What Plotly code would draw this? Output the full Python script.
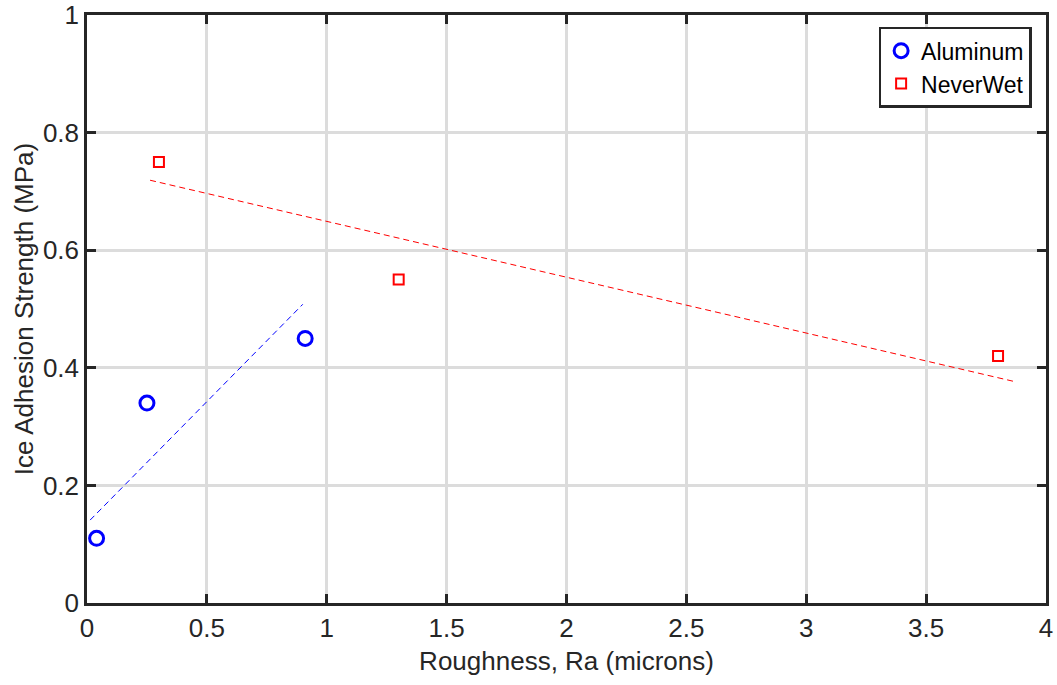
import plotly.graph_objects as go

al_x = [0.04, 0.25, 0.91]
al_y = [0.11, 0.34, 0.45]
nw_x = [0.30, 1.30, 3.80]
nw_y = [0.75, 0.55, 0.42]
al_fit_x = [0.013, 0.90]
al_fit_y = [0.141, 0.508]
nw_fit_x = [0.263, 3.875]
nw_fit_y = [0.719, 0.376]
x_ticks = [0, 0.5, 1, 1.5, 2, 2.5, 3, 3.5, 4]
x_labels = ["0", "0.5", "1", "1.5", "2", "2.5", "3", "3.5", "4"]
y_ticks = [0, 0.2, 0.4, 0.6, 0.8, 1]
y_labels = ["0", "0.2", "0.4", "0.6", "0.8", "1"]

FONT = "Liberation Sans, Arial, Helvetica"

fig = go.Figure()
fig.add_trace(go.Scatter(x=al_fit_x, y=al_fit_y, mode="lines", showlegend=False,
                         line=dict(color="#0000ff", width=1, dash="6px,4px"), hoverinfo="skip"))
fig.add_trace(go.Scatter(x=nw_fit_x, y=nw_fit_y, mode="lines", showlegend=False,
                         line=dict(color="#ff0000", width=1, dash="6px,4px"), hoverinfo="skip"))
fig.add_trace(go.Scatter(x=al_x, y=al_y, mode="markers", name="Aluminum",
                         marker=dict(symbol="circle-open", size=14, color="#0000ff",
                                     line=dict(width=3, color="#0000ff"))))
fig.add_trace(go.Scatter(x=nw_x, y=nw_y, mode="markers", name="NeverWet",
                         marker=dict(symbol="square-open", size=10, color="#ff0000",
                                     line=dict(width=2, color="#ff0000"))))

axis_common = dict(showline=True, linecolor="#262626", linewidth=2.5, mirror="ticks",
                   ticks="inside", ticklen=9, tickwidth=2.5, tickcolor="#262626",
                   showgrid=True, gridcolor="#dcdcdc", gridwidth=2.5, zeroline=False,
                   automargin=False,
                   tickfont=dict(family=FONT, size=26, color="#262626"),
                   title_font=dict(family=FONT, size=26, color="#262626"))

fig.update_xaxes(range=[0, 4], tickvals=x_ticks, ticktext=x_labels,
                 title_text="Roughness, Ra (microns)", title_standoff=10, **axis_common)
fig.update_yaxes(range=[0, 1], tickvals=y_ticks, ticktext=y_labels,
                 title_text="Ice Adhesion Strength (MPa)", title_standoff=2, **axis_common)

fig.update_layout(
    width=1057, height=685,
    margin=dict(l=87, r=11, t=15, b=82),
    plot_bgcolor="white", paper_bgcolor="white",
    font=dict(family=FONT, size=26, color="#262626"),
    legend=dict(x=0.985, y=0.98, xanchor="right", yanchor="top",
                bordercolor="#262626", borderwidth=2.5, bgcolor="white",
                font=dict(family=FONT, size=23, color="#000000"),
                tracegroupgap=0, itemwidth=30),
)

fig.write_html("out.html")
